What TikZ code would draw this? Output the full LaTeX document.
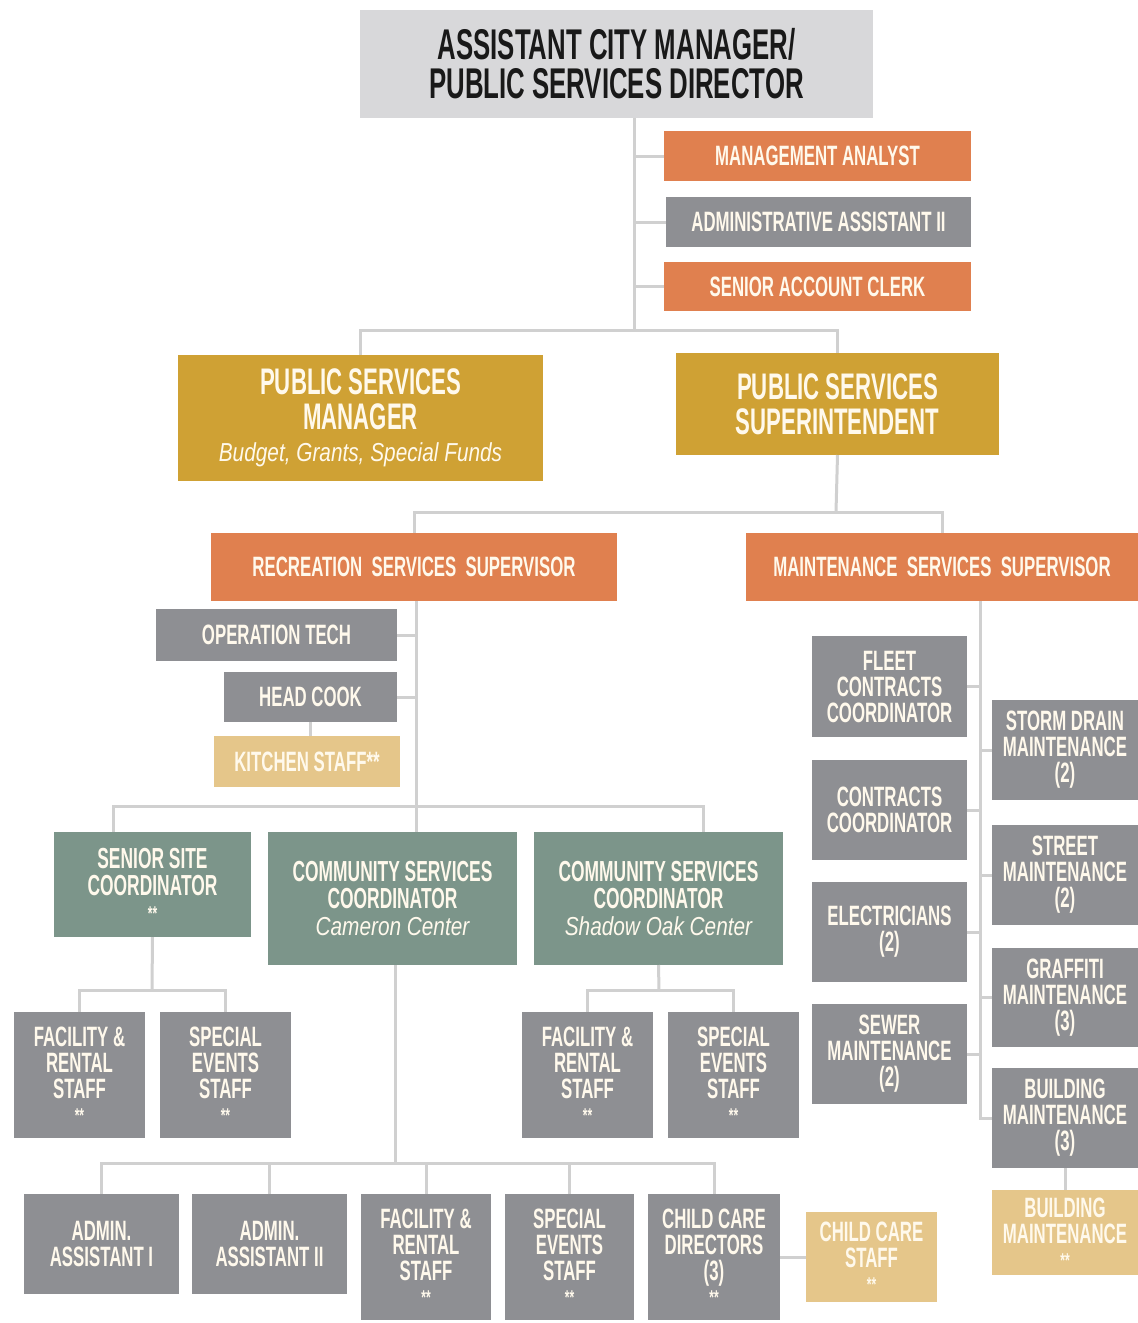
\documentclass[tikz,border=0pt]{standalone}
\usepackage{fontspec}
\newfontfamily\cnd{Liberation Sans}[FakeStretch=0.6]
\newfontfamily\cndi{Liberation Sans}[FakeStretch=0.8]
\definecolor{topg}{HTML}{D8D8DA}
\definecolor{orng}{HTML}{E0804F}
\definecolor{grayb}{HTML}{8E8F93}
\definecolor{gold}{HTML}{CFA134}
\definecolor{lgold}{HTML}{E5C68A}
\definecolor{green}{HTML}{7C958A}
\definecolor{lineg}{HTML}{D0D0D0}
\definecolor{cream}{HTML}{FFF9EC}
\tikzset{
  box/.style={inner sep=0pt, outer sep=0pt, align=center, text=cream, draw=none,
    font=\cnd\bfseries\fontsize{28}{26}\selectfont},
  topbox/.style={box, fill=topg, text=black!90, font=\cnd\bfseries\fontsize{43}{39}\selectfont},
  obox/.style={box, fill=orng},
  gbox/.style={box, fill=grayb},
  ybox/.style={box, fill=gold, font=\cnd\bfseries\fontsize{37}{35}\selectfont},
  lbox/.style={box, fill=lgold},
  grbox/.style={box, fill=green, font=\cnd\bfseries\fontsize{29}{27}\selectfont},
  conn/.style={draw=lineg, line width=3pt}
}
\newcommand\orgbox[7]{\node[#1, minimum width={(#4-#2)*1pt}, minimum height={(#5-#3)*1pt}] (#6) at ({(#2+#4)/2},{(#3+#5)/2}) {#7};}
\newcommand\stars{\\[-2pt]{\fontsize{20}{14}\selectfont **}}
\newcommand\subit[1]{{\cndi\mdseries\itshape\fontsize{26}{26}\selectfont #1}}
\begin{document}
\begin{tikzpicture}[x=1pt,y=-1pt]
\fill[white] (0,0) rectangle (1138,1323);
\useasboundingbox (0,0) rectangle (1138,1323);
% top
\orgbox{topbox}{360}{10}{873}{118}{top}{ASSISTANT CITY MANAGER/\\PUBLIC SERVICES DIRECTOR}
\orgbox{obox}{664}{131}{971}{181}{ma}{MANAGEMENT ANALYST}
\orgbox{gbox}{666}{197}{971}{247}{aa}{ADMINISTRATIVE ASSISTANT II}
\orgbox{obox}{664}{262}{971}{311}{sac}{SENIOR ACCOUNT CLERK}
\orgbox{ybox}{178}{355}{543}{481}{psm}{PUBLIC SERVICES\\MANAGER\\[-3pt]\subit{Budget, Grants, Special Funds}}
\orgbox{ybox}{676}{353}{999}{455}{pss}{PUBLIC SERVICES\\SUPERINTENDENT}
\orgbox{obox}{211}{533}{617}{601}{rss}{RECREATION\ \ SERVICES\ \ SUPERVISOR}
\orgbox{obox}{746}{533}{1138}{601}{mss}{MAINTENANCE\ \ SERVICES\ \ SUPERVISOR}
% recreation
\orgbox{gbox}{156}{609}{397}{661}{ot}{OPERATION TECH}
\orgbox{gbox}{224}{672}{397}{722}{hc}{HEAD COOK}
\orgbox{lbox}{214}{736}{400}{787}{ks}{KITCHEN STAFF**}
\orgbox{grbox}{54}{832}{251}{937}{ssc}{SENIOR SITE\\COORDINATOR\stars}
\orgbox{grbox}{268}{832}{517}{965}{csc}{COMMUNITY SERVICES\\COORDINATOR\\\subit{Cameron Center}}
\orgbox{grbox}{534}{832}{783}{965}{cso}{COMMUNITY SERVICES\\COORDINATOR\\\subit{Shadow Oak Center}}
\orgbox{gbox}{14}{1012}{145}{1138}{fra}{FACILITY \&\\RENTAL\\STAFF\stars}
\orgbox{gbox}{160}{1012}{291}{1138}{sea}{SPECIAL\\EVENTS\\STAFF\stars}
\orgbox{gbox}{522}{1012}{653}{1138}{frc}{FACILITY \&\\RENTAL\\STAFF\stars}
\orgbox{gbox}{668}{1012}{799}{1138}{sec}{SPECIAL\\EVENTS\\STAFF\stars}
\orgbox{gbox}{24}{1194}{179}{1294}{ad1}{ADMIN.\\ASSISTANT I}
\orgbox{gbox}{192}{1194}{347}{1294}{ad2}{ADMIN.\\ASSISTANT II}
\orgbox{gbox}{361}{1194}{491}{1320}{frb}{FACILITY \&\\RENTAL\\STAFF\stars}
\orgbox{gbox}{505}{1194}{634}{1320}{seb}{SPECIAL\\EVENTS\\STAFF\stars}
\orgbox{gbox}{648}{1194}{780}{1320}{ccd}{CHILD CARE\\DIRECTORS\\(3)\stars}
\orgbox{lbox}{806}{1212}{937}{1302}{ccs}{CHILD CARE\\STAFF\stars}
% maintenance
\orgbox{gbox}{812}{636}{967}{737}{fcc}{FLEET\\CONTRACTS\\COORDINATOR}
\orgbox{gbox}{812}{760}{967}{860}{cc}{CONTRACTS\\COORDINATOR}
\orgbox{gbox}{812}{882}{967}{982}{el}{ELECTRICIANS\\(2)}
\orgbox{gbox}{812}{1004}{967}{1104}{sw}{SEWER\\MAINTENANCE\\(2)}
\orgbox{gbox}{992}{700}{1138}{800}{sd}{STORM DRAIN\\MAINTENANCE\\(2)}
\orgbox{gbox}{992}{825}{1138}{925}{st}{STREET\\MAINTENANCE\\(2)}
\orgbox{gbox}{992}{948}{1138}{1047}{gr}{GRAFFITI\\MAINTENANCE\\(3)}
\orgbox{gbox}{992}{1068}{1138}{1168}{bm}{BUILDING\\MAINTENANCE\\(3)}
\orgbox{lbox}{992}{1190}{1138}{1275}{bml}{BUILDING\\MAINTENANCE\stars}
% junctions
\coordinate (j1) at (634,330);
\coordinate (j2) at (836,512);
\coordinate (j3) at (416,806);
\coordinate (d1) at (113,806);
\coordinate (d3) at (703,806);
\coordinate (j4) at (152,990);
\coordinate (j5) at (659,990);
\coordinate (j6) at (395,1163);
\coordinate (j7) at (980,1118);
% connectors
\draw[conn] (top.south -| j1) -- (j1);
\draw[conn] (ma.west) -- (ma.west -| j1);
\draw[conn] (aa.west) -- (aa.west -| j1);
\draw[conn] (sac.west) -- (sac.west -| j1);
\draw[conn] (psm.north) |- (j1) -| (pss.north);
\draw[conn] (pss.south) -- (j2);
\draw[conn] (rss.north) |- (j2) -| (mss.north);
\draw[conn] (rss.south -| j3) -- (j3 |- csc.north);
\draw[conn] (ot.east) -- (ot.east -| j3);
\draw[conn] (hc.east) -- (hc.east -| j3);
\draw[conn] (hc.south) -- (hc.south |- ks.north);
\draw[conn] (d1 |- ssc.north) -- (d1) -- (d3) -- (d3 |- cso.north);
\draw[conn] (ssc.south) -- (j4);
\draw[conn] (fra.north) |- (j4) -| (sea.north);
\draw[conn] (cso.south) -- (j5);
\draw[conn] (frc.north) |- (j5) -| (sec.north);
\draw[conn] (csc.south -| j6) -- (j6);
\draw[conn] (ad1.north) |- (j6) -| (ccd.north);
\draw[conn] (ad2.north) -- (ad2.north |- j6);
\draw[conn] (frb.north) -- (frb.north |- j6);
\draw[conn] (seb.north) -- (seb.north |- j6);
\draw[conn] (ccd.east |- ccs.west) -- (ccs.west);
\draw[conn] (mss.south -| j7) -- (j7) -- (bm.west);
\draw[conn] (fcc.east) -- (fcc.east -| j7);
\draw[conn] (cc.east) -- (cc.east -| j7);
\draw[conn] (el.east) -- (el.east -| j7);
\draw[conn] (sw.east) -- (sw.east -| j7);
\draw[conn] (sd.west) -- (sd.west -| j7);
\draw[conn] (st.west) -- (st.west -| j7);
\draw[conn] (gr.west) -- (gr.west -| j7);
\draw[conn] (bm.south) -- (bml.north);
\end{tikzpicture}
\end{document}
